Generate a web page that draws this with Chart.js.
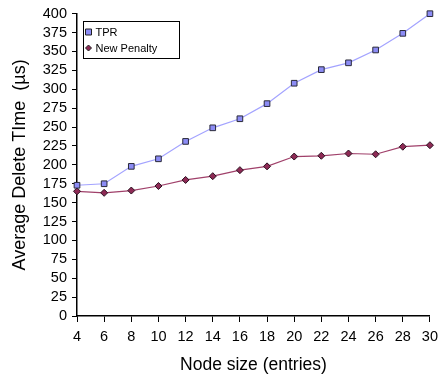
<!DOCTYPE html>
<html>
<head>
<meta charset="utf-8">
<script src="https://cdn.jsdelivr.net/npm/chart.js@4/dist/chart.umd.min.js"></script>
<style>
html,body{margin:0;padding:0;background:#fff;overflow:hidden;width:439px;height:376px;}
#wrap{position:absolute;left:0;top:0;width:444px;height:376px;}
</style>
</head>
<body>
<div id="wrap"><canvas id="c"></canvas></div>
<script>
const nodeSizes = [4, 6, 8, 10, 12, 14, 16, 18, 20, 22, 24, 26, 28, 30];
const tprValues = [173, 175, 198, 208, 231, 249, 261, 281, 308, 326, 335, 352, 374, 400];
const penaltyValues = [165, 163, 166, 172, 180, 185, 193, 198, 211, 212, 215, 214, 224, 226];
const seriesNames = ['TPR', 'New Penalty'];
const xTitle = 'Node size (entries)';
const yTitle = 'Average Delete TIme  (\u00b5s)';

const FONT = "'Liberation Sans', Arial, sans-serif";

const legendPlugin = {
  id: 'boxLegend',
  afterDraw(chart) {
    const ctx = chart.ctx;
    const x0 = 83.5, y0 = 21.5, w = 96, h = 37;
    ctx.save();
    ctx.fillStyle = '#fff';
    ctx.fillRect(x0, y0, w, h);
    ctx.strokeStyle = '#000';
    ctx.lineWidth = 1;
    ctx.strokeRect(x0, y0, w, h);
    ctx.font = '11px ' + FONT;
    ctx.textBaseline = 'middle';
    chart.data.datasets.forEach((ds, i) => {
      const cy = y0 + 10.5 + i * 16;
      const cx = x0 + 5;
      ctx.fillStyle = ds.pointBackgroundColor;
      ctx.strokeStyle = '#222';
      ctx.lineWidth = 1;
      ctx.beginPath();
      if (ds.pointStyle === 'rect') {
        ctx.rect(cx - 3, cy - 3, 6, 6);
      } else {
        ctx.moveTo(cx, cy - 3); ctx.lineTo(cx + 3, cy); ctx.lineTo(cx, cy + 3); ctx.lineTo(cx - 3, cy); ctx.closePath();
      }
      ctx.fill(); ctx.stroke();
      ctx.fillStyle = '#000';
      ctx.fillText(ds.label, x0 + 12, cy + 0.5);
    });
    ctx.restore();
  }
};

new Chart(document.getElementById('c'), {
  type: 'line',
  data: {
    datasets: [
      {
        label: seriesNames[0],
        data: nodeSizes.map((x, i) => ({x, y: tprValues[i]})),
        borderColor: '#a3a3ff',
        borderWidth: 1.2,
        pointStyle: 'rect',
        pointRadius: 4,
        pointBackgroundColor: '#8c8cf5',
        pointBorderColor: '#2a2a3a',
        pointBorderWidth: 1,
        tension: 0,
        clip: false
      },
      {
        label: seriesNames[1],
        data: nodeSizes.map((x, i) => ({x, y: penaltyValues[i]})),
        borderColor: '#a0406a',
        borderWidth: 1.2,
        pointStyle: 'rectRot',
        pointRadius: 3.5,
        pointBackgroundColor: '#8e2a55',
        pointBorderColor: '#2a1020',
        pointBorderWidth: 1,
        tension: 0,
        clip: false
      }
    ]
  },
  options: {
    responsive: true,
    maintainAspectRatio: false,
    animation: false,
    devicePixelRatio: 1,
    layout: { padding: { top: 11, left: 0, right: 0, bottom: 0 } },
    plugins: { legend: { display: false }, tooltip: { enabled: false } },
    scales: {
      x: {
        type: 'linear',
        min: 4, max: 30,
        afterFit: (s) => { s.height = 60; },
        ticks: { stepSize: 2, autoSkip: false, color: '#000', font: { family: FONT, size: 14.5 }, padding: 6, maxRotation: 0 },
        grid: { drawOnChartArea: false, tickLength: 6, color: '#000', tickColor: '#000' },
        border: { color: '#000', width: 1.5 },
        title: { display: true, text: xTitle, color: '#000', font: { family: FONT, size: 17.5 }, padding: { top: 0, bottom: 0.5 } }
      },
      y: {
        min: 0, max: 400,
        afterFit: (s) => { s.width = 77; },
        ticks: { stepSize: 25, autoSkip: false, color: '#000', font: { family: FONT, size: 14.5 }, padding: 5 },
        grid: { drawOnChartArea: false, tickLength: 5, color: '#000', tickColor: '#000' },
        border: { color: '#000', width: 1.5 },
        title: { display: true, text: yTitle, color: '#000', font: { family: FONT, size: 18 }, padding: { top: 9, bottom: 0 } }
      }
    }
  },
  plugins: [legendPlugin]
});
</script>
</body>
</html>
